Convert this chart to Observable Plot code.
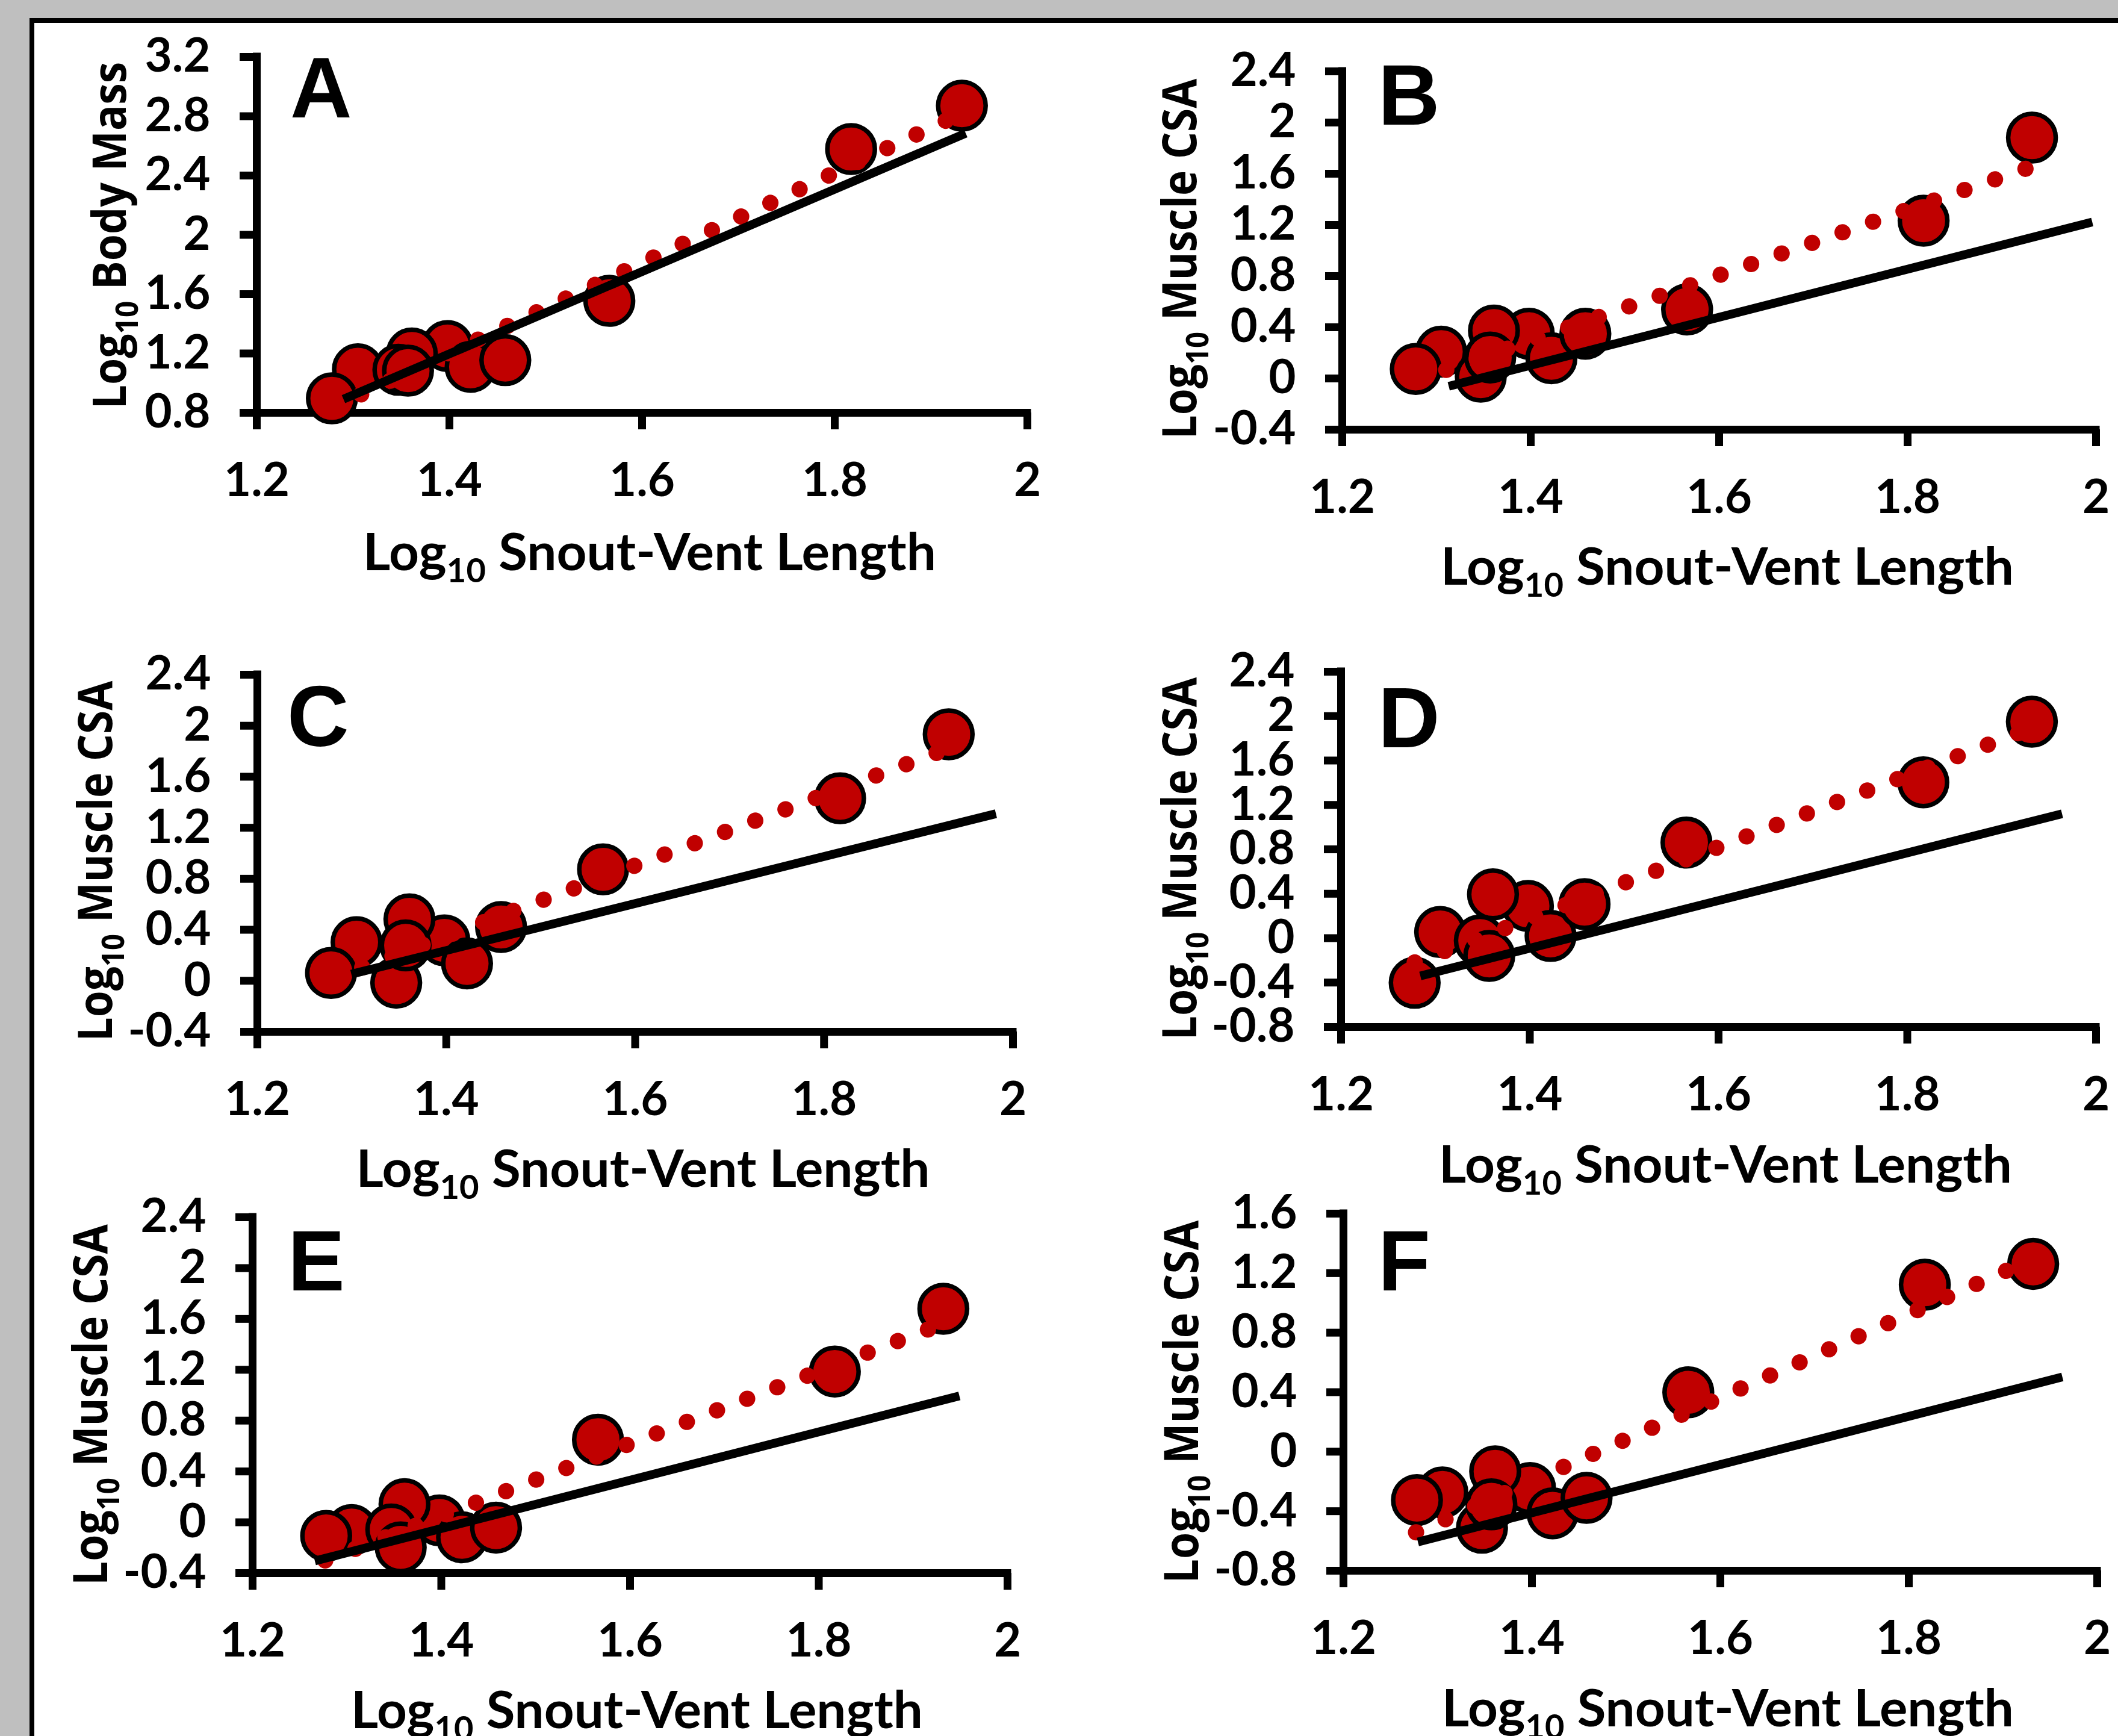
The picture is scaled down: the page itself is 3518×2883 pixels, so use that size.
<!DOCTYPE html>
<html>
<head>
<meta charset="utf-8">
<script src="https://cdn.jsdelivr.net/npm/d3@7"></script>
<script src="https://cdn.jsdelivr.net/npm/@observablehq/plot@0.6"></script>
<style>
html, body { margin: 0; padding: 0; background: #bfbfbf; width: 3518px; height: 2883px; overflow: hidden; }
#frame { position: absolute; left: 49px; top: 30px; width: 3600px; height: 3000px; border: 8px solid #000; background: #fff; }
#root { position: absolute; left: 0; top: 0; width: 3518px; height: 2883px; }
</style>
</head>
<body>
<div id="frame"></div>
<div id="root"></div>
<script>
// ---- data ----
// Log10 snout-vent length of each species (same in all panels), in drawing order
const svl = [1.305, 1.398, 1.361, 1.347, 1.357, 1.278, 1.422, 1.458, 1.566, 1.817, 1.932];
const yA = [1.093, 1.25, 1.2, 1.09, 1.084, 0.897, 1.11, 1.155, 1.555, 2.579, 2.871];
const yB = [0.209, 0.35, 0.374, 0.014, 0.164, 0.074, 0.158, 0.35, 0.539, 1.233, 1.882];
const yC = [0.302, 0.317, 0.482, -0.015, 0.277, 0.061, 0.136, 0.422, 0.874, 1.431, 1.933];
const yD = [0.055, 0.29, 0.394, -0.022, -0.16, -0.402, 0.02, 0.307, 0.861, 1.404, 1.95];
const yE = [-0.061, 0.015, 0.142, -0.056, -0.197, -0.107, -0.118, -0.042, 0.65, 1.186, 1.68];
const yF = [-0.274, -0.245, -0.132, -0.511, -0.354, -0.325, -0.414, -0.31, 0.399, 1.122, 1.262];

// solid black reference line endpoints [x, y]
const isoA = [[1.290, 0.892], [1.936, 2.685]];
const isoB = [[1.313, -0.061], [1.996, 1.222]];
const isoC = [[1.2995, 0.052], [1.982, 1.310]];
const isoD = [[1.284, -0.340], [1.964, 1.120]];
const isoE = [[1.266, -0.304], [1.949, 0.994]];
const isoF = [[1.279, -0.607], [1.963, 0.502]];

// dotted red trend line endpoints [x, y]
const fitA = [[1.278, 0.832], [1.932, 2.820]];
const fitB = [[1.278, -0.016], [1.932, 1.656]];
const fitC = [[1.279, 0.016], [1.933, 1.825]];
const fitD = [[1.278, -0.219], [1.932, 1.893]];
const fitE = [[1.277, -0.300], [1.933, 1.566]];
const fitF = [[1.277, -0.542], [1.932, 1.296]];

// tick values
const xTicks = [1.2, 1.4, 1.6, 1.8, 2];
const ticksA = [0.8, 1.2, 1.6, 2, 2.4, 2.8, 3.2];
const ticksB = [-0.4, 0, 0.4, 0.8, 1.2, 1.6, 2, 2.4];
const ticksC = [-0.4, 0, 0.4, 0.8, 1.2, 1.6, 2, 2.4];
const ticksD = [-0.8, -0.4, 0, 0.4, 0.8, 1.2, 1.6, 2, 2.4];
const ticksE = [-0.4, 0, 0.4, 0.8, 1.2, 1.6, 2, 2.4];
const ticksF = [-0.8, -0.4, 0, 0.4, 0.8, 1.2, 1.6];

// texts
const letters = ["A", "B", "C", "D", "E", "F"];
const yTitleMain = ["Body Mass", "Muscle CSA", "Muscle CSA", "Muscle CSA", "Muscle CSA", "Muscle CSA"];
const xTitleMain = "Snout-Vent Length";

// ---- layout (page pixel positions) ----
const layout = [
  {sx: 0,    sy: 0,    w: 1759, h: 1000, left: 426,  right: 1706, top: 94,   bottom: 685,  lx: 482,  lb: 195,  yx: 209,  ycy: 391,  ylen: 577, xb: 947,  xcx: 1079, xlen: 952},
  {sx: 1759, sy: 0,    w: 1759, h: 1000, left: 2229, right: 3481, top: 118,  bottom: 713,  lx: 2299, lb: 207,  yx: 1987, ycy: 430,  ylen: 599, xb: 971,  xcx: 2869, xlen: 952},
  {sx: 0,    sy: 1000, w: 1759, h: 950,  left: 427,  right: 1682, top: 1120, bottom: 1713, lx: 484,  lb: 1239, yx: 186,  ycy: 1430, ylen: 599, xb: 1971, xcx: 1068, xlen: 953},
  {sx: 1759, sy: 1000, w: 1759, h: 950,  left: 2227, right: 3481, top: 1115, bottom: 1705, lx: 2299, lb: 1241, yx: 1987, ycy: 1426, ylen: 603, xb: 1964, xcx: 2866, xlen: 952},
  {sx: 0,    sy: 1950, w: 1759, h: 933,  left: 419,  right: 1673, top: 2021, bottom: 2612, lx: 488,  lb: 2143, yx: 178,  ycy: 2333, ylen: 600, xb: 2870, xcx: 1058, xlen: 950},
  {sx: 1759, sy: 1950, w: 1759, h: 933,  left: 2231, right: 3483, top: 2015, bottom: 2608, lx: 2299, lb: 2143, yx: 1990, ycy: 2328, ylen: 603, xb: 2867, xcx: 2870, xlen: 950}
];
const letterBearing = [0, 10, 7, 10, 10, 10];

const series = [yA, yB, yC, yD, yE, yF];
const isos = [isoA, isoB, isoC, isoD, isoE, isoF];
const fits = [fitA, fitB, fitC, fitD, fitE, fitF];
const tickSets = [ticksA, ticksB, ticksC, ticksD, ticksE, ticksF];

const RED = "#c00000";
const fmt = d => String(d);
const root = document.getElementById("root");

function addTitle(g, family, size, subSize, subDy, pre, sub, post) {
  const t = g.append("text")
    .attr("font-family", family).attr("font-weight", 700)
    .attr("font-size", size).attr("fill", "#000")
    .attr("text-anchor", "start")
    .style("white-space", "pre");
  t.append("tspan").text(pre);
  t.append("tspan").attr("font-size", subSize).attr("dy", subDy).text(sub);
  t.append("tspan").attr("dy", -subDy).text(post);
  return t;
}

series.forEach((ys, i) => {
  const L = layout[i];
  const ticks = tickSets[i];
  const data = svl.map((x, k) => ({x, y: ys[k]}));
  const svg = Plot.plot({
    width: L.w,
    height: L.h,
    marginLeft: L.left - L.sx,
    marginRight: L.sx + L.w - L.right,
    marginTop: L.top - L.sy,
    marginBottom: L.sy + L.h - L.bottom,
    x: {domain: [1.2, 2]},
    y: {domain: [ticks[0], ticks[ticks.length - 1]]},
    style: {background: "transparent", overflow: "visible", maxWidth: "none", fontFamily: "Lato", fontWeight: 700, fontSize: "78px", color: "#000"},
    marks: [
      Plot.axisX(xTicks, {tickSize: 28, tickPadding: 55, strokeWidth: 13, tickFormat: fmt, label: null, fontSize: 78, fontFamily: "Lato", fontWeight: 700}),
      Plot.axisY(ticks, {tickSize: 28, tickPadding: 49, strokeWidth: 13, tickFormat: fmt, label: null, fontSize: 78, fontFamily: "Lato", fontWeight: 700}),
      Plot.ruleX([1.2], {stroke: "#000", strokeWidth: 13, strokeLinecap: "square"}),
      Plot.ruleY([ticks[0]], {stroke: "#000", strokeWidth: 13, strokeLinecap: "square"}),
      Plot.dot(data, {x: "x", y: "y", r: 39.5, fill: RED, stroke: "#000", strokeWidth: 7.5}),
      Plot.line(fits[i], {x: d => d[0], y: d => d[1], stroke: RED, strokeWidth: 27, strokeDasharray: "0.1 53.5", strokeLinecap: "round"}),
      Plot.line(isos[i], {x: d => d[0], y: d => d[1], stroke: "#000", strokeWidth: 14.5, strokeLinecap: "butt"})
    ]
  });
  svg.style.position = "absolute";
  svg.style.left = L.sx + "px";
  svg.style.top = L.sy + "px";
  root.appendChild(svg);

  const g = d3.select(svg).append("g").attr("transform", `translate(${-L.sx},${-L.sy})`);

  // panel letter
  g.append("text")
    .attr("x", L.lx - letterBearing[i]).attr("y", L.lb)
    .attr("text-anchor", "start")
    .attr("font-family", "'Liberation Sans', Arial, sans-serif")
    .attr("font-weight", 700).attr("font-size", 142).attr("fill", "#000")
    .text(letters[i]);

  // x title
  const xt = addTitle(g, "Lato", 87, 56, 20, "Log", "10", " " + xTitleMain);
  const xb = xt.node().getBBox();
  xt.attr("transform", `translate(${L.xcx},${L.xb}) scale(${L.xlen / xb.width},1) translate(${-(xb.x + xb.width / 2)},0)`);

  // y title
  const yt = addTitle(g, "'Open Sans'", 78, 52, 20, "Log", "10", " " + yTitleMain[i]);
  const yb = yt.node().getBBox();
  yt.attr("transform", `translate(${L.yx},${L.ycy}) rotate(-90) scale(${L.ylen / yb.width},1) translate(${-(yb.x + yb.width / 2)},0)`);
});
</script>
</body>
</html>
